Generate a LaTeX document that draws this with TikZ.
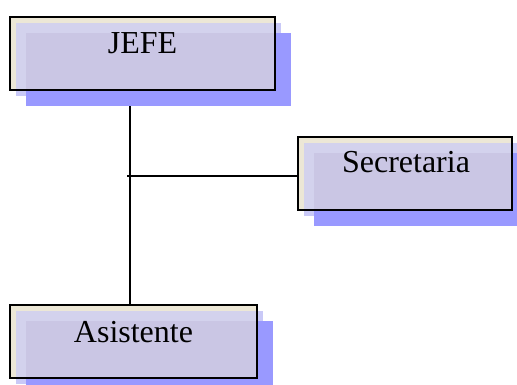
\documentclass[tikz,border=0pt]{standalone}
\usepackage{fontspec}
\setmainfont{Liberation Serif}
\definecolor{boxbeige}{HTML}{ECE7D6}
\definecolor{boxlilac}{HTML}{CAC6E4}
\definecolor{lightshade}{HTML}{C9C9F7}
\definecolor{darkshade}{HTML}{9999FF}
\tikzset{
  orgbox/.style={rectangle, inner sep=0pt, anchor=north west, minimum width=#1},
  orgbox/.default=265pt,
  boxlabel/.style={anchor=base, font=\fontsize{32}{32}\selectfont, inner sep=0pt},
  link/.style={draw=black, line width=1.6pt},
}
% shadows and tinted interior of a box, drawn before its frame
\newcommand{\shadedbox}[1]{%
  \fill[lightshade] ([shift={(6pt,-6pt)}]#1.north west) rectangle ([shift={(6pt,-6pt)}]#1.south east);
  \fill[darkshade] ([shift={(16pt,-16pt)}]#1.north west) rectangle ([shift={(16pt,-16pt)}]#1.south east);
  \fill[boxbeige] (#1.north west) rectangle (#1.south east);
  \fill[lightshade!70!boxbeige] ([shift={(6pt,-6pt)}]#1.north west) rectangle (#1.south east);
  \fill[boxlilac] ([shift={(16pt,-16pt)}]#1.north west) rectangle (#1.south east);
  \draw[black, line width=2pt] (#1.north west) rectangle (#1.south east);
}
\begin{document}
\begin{tikzpicture}[x=1pt,y=-1pt]
\useasboundingbox (0,0) rectangle (517,385);

% frames (placed first so their anchors exist)
\path node[orgbox=265pt, minimum height=73pt] (jefe) at (10,17) {};
\path node[orgbox=214pt, minimum height=73pt] (secretaria) at (298,137) {};
\path node[orgbox=247pt, minimum height=73pt] (asistente) at (10,305) {};

% connectors
\coordinate (trunktop) at ([xshift=-12.5pt]jefe.south);
\coordinate (trunkbottom) at ([xshift=-3.5pt]asistente.north);
\coordinate (branch) at (127,176);
\draw[link] (trunktop) -- (trunkbottom);
\draw[link] (branch) -- (branch -| secretaria.west);

% boxes
\shadedbox{jefe}
\shadedbox{secretaria}
\shadedbox{asistente}

% labels
\node[boxlabel] (jefetext) at (142.5,54) {JEFE};
\node[boxlabel] (secretariatext) at (406,173) {Secretaria};
\node[boxlabel] (asistentetext) at (133.5,342) {Asistente};
\end{tikzpicture}
\end{document}
